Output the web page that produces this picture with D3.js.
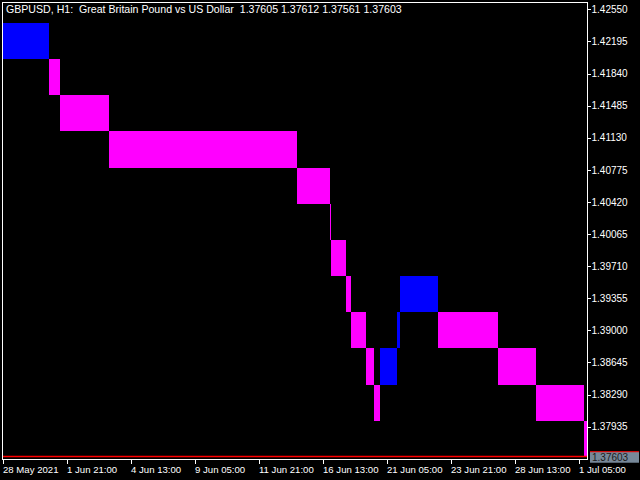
<!DOCTYPE html>
<html>
<head>
<meta charset="utf-8">
<script src="https://cdn.jsdelivr.net/npm/d3@7"></script>
<style>
  html, body { margin: 0; padding: 0; background: #000; }
  svg { display: block; }
  text { font-family: "Liberation Sans", Arial, sans-serif; font-size: 10px; fill: #fff; }
</style>
</head>
<body>
<script>
'use strict';

// renko boxes: bar index where each box starts / ends, its lower price and direction
const boxFrom = [0, 47, 58, 107, 295, 328, 329, 343.7, 349, 364, 372, 378, 395, 398, 436, 496, 534, 582]
const boxTo   = [47, 58, 107, 295, 328, 329, 343.7, 349, 364, 372, 378, 395, 398, 436, 496, 534, 582, 585]
const boxLow  = [1.4200, 1.4160, 1.4120, 1.4080, 1.4040, 1.4000, 1.3960, 1.3920, 1.3880,
                 1.3840, 1.3800, 1.3840, 1.3880, 1.3920, 1.3880, 1.3840, 1.3800, 1.3760]
const boxUp   = [1, 0, 0, 0, 0, 0, 0, 0, 0, 0, 0, 1, 1, 1, 0, 0, 0, 0]
const boxSize = 0.0040

const priceTicks = [1.42550, 1.42195, 1.41840, 1.41485, 1.41130, 1.40775, 1.40420,
                    1.40065, 1.39710, 1.39355, 1.39000, 1.38645, 1.38290, 1.37935]
const timeTicks  = [0, 64, 128, 192, 256, 320, 384, 448, 512, 576]
const timeLabels = ['28 May 2021', '1 Jun 21:00', '4 Jun 13:00', '9 Jun 05:00', '11 Jun 21:00',
                    '16 Jun 13:00', '21 Jun 05:00', '23 Jun 21:00', '28 Jun 13:00', '1 Jul 05:00']
const lastPrice = 1.37603
const titulo = 'GBPUSD, H1:  Great Britain Pound vs US Dollar  1.37605 1.37612 1.37561 1.37603'

const largura = 640
const altura = 480
const esq = 2, topo = 2, dir = 587, base = 459

const svg = d3.select('body').append('svg')
    .attr('width', largura)
    .attr('height', altura)
    .style('background', '#000')

const x = d3.scaleLinear().domain([0, 576]).range([esq, esq + 576])
const y = d3.scaleLinear().domain([1.37935, 1.42550]).range([426.7, 9.3])

svg.append('clipPath').attr('id', 'area')
    .append('rect')
    .attr('x', esq + 1).attr('y', topo + 1)
    .attr('width', dir - esq - 1).attr('height', base - topo - 1)

const plot = svg.append('g').attr('clip-path', 'url(#area)')

plot.selectAll('rect.box')
    .data(boxLow)
    .enter().append('rect')
    .attr('class', 'box')
    .attr('x', (d, i) => x(boxFrom[i]))
    .attr('width', (d, i) => x(boxTo[i]) - x(boxFrom[i]))
    .attr('y', d => y(d + boxSize))
    .attr('height', d => y(d) - y(d + boxSize))
    .attr('fill', (d, i) => boxUp[i] ? '#0000ff' : '#ff00ff')
    .attr('shape-rendering', 'crispEdges')

// bid line
plot.append('line')
    .attr('x1', esq).attr('x2', dir)
    .attr('y1', Math.round(y(lastPrice)) - 0.5).attr('y2', Math.round(y(lastPrice)) - 0.5)
    .attr('stroke', '#ff0000')
    .attr('stroke-width', 1.5)

// frame
svg.append('rect')
    .attr('x', esq + 0.5).attr('y', topo + 0.5)
    .attr('width', dir - esq).attr('height', base - topo)
    .attr('fill', 'none')
    .attr('stroke', '#fff')
    .attr('shape-rendering', 'crispEdges')

// price axis
const eixoY = d3.axisRight(y)
    .tickValues(priceTicks)
    .tickFormat(d3.format('.5f'))
    .tickSize(3)
    .tickPadding(1)
const gy = svg.append('g')
    .attr('transform', `translate(${dir + 0.5}, 0)`)
    .call(eixoY)
gy.select('.domain').remove()
gy.selectAll('line').attr('stroke', '#fff').attr('shape-rendering', 'crispEdges')
gy.selectAll('text').attr('fill', '#fff').style('font-family', '"Liberation Sans", Arial, sans-serif').style('font-size', '10px')

// time axis
const eixoX = d3.axisBottom(x)
    .tickValues(timeTicks)
    .tickFormat((d, i) => timeLabels[i])
    .tickSize(4)
const gx = svg.append('g')
    .attr('transform', `translate(0.5, ${base + 0.5})`)
    .call(eixoX)
gx.select('.domain').remove()
gx.selectAll('line').attr('stroke', '#fff').attr('shape-rendering', 'crispEdges')
gx.selectAll('text')
    .attr('text-anchor', 'start')
    .attr('x', 0)
    .attr('dy', null)
    .attr('y', 13)
    .attr('fill', '#fff')
    .style('font-family', '"Liberation Sans", Arial, sans-serif')
    .style('font-size', '9.6px')

// last price label
const yp = y(lastPrice)
svg.append('rect')
    .attr('x', 590).attr('y', yp - 5)
    .attr('width', 49).attr('height', 11)
    .attr('fill', '#778899')
svg.append('line')
    .attr('x1', 590).attr('x2', 639)
    .attr('y1', yp - 5).attr('y2', yp - 5)
    .attr('stroke', '#ff0000')
    .attr('stroke-width', 1)
svg.append('text')
    .attr('x', 592).attr('y', yp + 4)
    .style('fill', '#1a1a1a')
    .text(d3.format('.5f')(lastPrice))

// title
svg.append('text')
    .attr('x', 6).attr('y', 13)
    .style('white-space', 'pre')
    .style('font-size', '10.6px')
    .text(titulo)
</script>
</body>
</html>
